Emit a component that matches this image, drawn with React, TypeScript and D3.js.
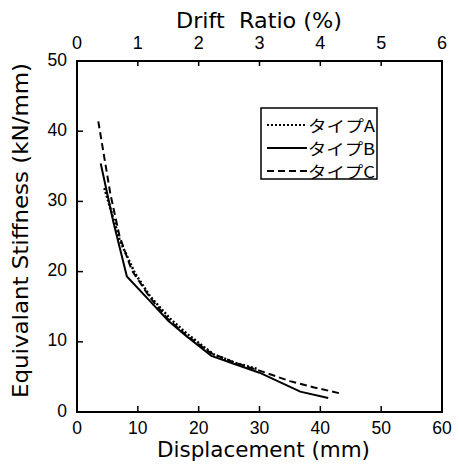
import React from "react";
import * as d3 from "d3";

const xTicks = [0, 10, 20, 30, 40, 50, 60];
const yTicks = [0, 10, 20, 30, 40, 50];
const driftTicks = [0, 1, 2, 3, 4, 5, 6];

const seriesNames = ["タイプA", "タイプB", "タイプC"];

const typeAx = [4.5, 7.0, 9.5, 12.0, 15.3, 18.0, 20.8, 22.5, 26.0, 29.8];
const typeAy = [31.9, 24.5, 19.8, 16.5, 13.3, 11.2, 9.3, 8.2, 7.0, 6.1];

const typeBx = [3.9, 6.0, 8.2, 12.0, 15.0, 18.0, 22.1, 26.0, 30.0, 36.7, 41.3];
const typeBy = [35.4, 27.0, 19.3, 15.8, 13.0, 10.8, 8.0, 6.8, 5.6, 2.9, 2.0];

const typeCx = [3.5, 5.5, 7.0, 9.0, 12.0, 15.0, 18.0, 22.0, 26.0, 30.0, 35.0, 39.0, 43.5];
const typeCy = [41.4, 31.0, 25.0, 20.2, 16.3, 13.2, 10.9, 8.4, 7.0, 5.9, 4.4, 3.5, 2.6];

const dashes = ["2,2", "none", "7,4"];

export default function App() {
  const W = 459, H = 465;
  const left = 77, right = 442, top = 61, bottom = 412;
  const x = d3.scaleLinear().domain([0, 60]).range([left, right]);
  const xd = d3.scaleLinear().domain([0, 6]).range([left, right]);
  const y = d3.scaleLinear().domain([0, 50]).range([bottom, top]);
  const line = d3.line<[number, number]>().x(d => x(d[0])).y(d => y(d[1]));
  const series = [
    typeAx.map((v, i) => [v, typeAy[i]] as [number, number]),
    typeBx.map((v, i) => [v, typeBy[i]] as [number, number]),
    typeCx.map((v, i) => [v, typeCy[i]] as [number, number]),
  ];
  const font = "'DejaVu Sans', sans-serif";
  const tickFont = "'Liberation Sans', Arial, sans-serif";
  const legX = 261, legY = 108;
  return (
    <svg width={W} height={H} style={{ position: "absolute", left: 0, top: 0, background: "#fff" }} fontFamily={font}>
      <rect x={0} y={0} width={W} height={H} fill="#fff" />
      <rect x={left} y={top} width={right - left} height={bottom - top} fill="none" stroke="#000" strokeWidth={2} />
      {xTicks.map(t => (
        <g key={"x" + t}>
          {t > 0 && t < 60 && <line x1={x(t)} x2={x(t)} y1={bottom} y2={bottom - 6} stroke="#000" strokeWidth={1.5} />}
          <text x={x(t)} y={428} textAnchor="middle" dominantBaseline="central" fontSize={17.5} fontFamily={tickFont}>{t}</text>
        </g>
      ))}
      {driftTicks.map(t => (
        <g key={"d" + t}>
          {t > 0 && t < 6 && <line x1={xd(t)} x2={xd(t)} y1={top} y2={top + 5} stroke="#000" strokeWidth={1.5} />}
          <text x={xd(t)} y={43} textAnchor="middle" dominantBaseline="central" fontSize={18} fontFamily={tickFont}>{t}</text>
        </g>
      ))}
      {yTicks.map(t => (
        <g key={"y" + t}>
          {t > 0 && t < 50 && <line x1={left} x2={left + 6} y1={y(t)} y2={y(t)} stroke="#000" strokeWidth={1.5} />}
          <text x={67} y={y(t) - 1.5} textAnchor="end" dominantBaseline="central" fontSize={17.5} fontFamily={tickFont}>{t}</text>
        </g>
      ))}
      {series.map((s, i) => (
        <path key={i} d={line(s) || ""} fill="none" stroke="#000" strokeWidth={i === 0 ? 2.5 : 2} strokeDasharray={dashes[i]} />
      ))}
      <rect x={legX} y={legY} width={116} height={71} fill="#fff" stroke="#000" strokeWidth={1.5} />
      {seriesNames.map((n, i) => {
        const ly = legY + 17 + i * 23;
        return (
          <g key={n}>
            <line x1={267} x2={307} y1={ly} y2={ly} stroke="#000" strokeWidth={2} strokeDasharray={dashes[i]} />
            <text x={308} y={ly} dominantBaseline="central" fontSize={15.5} fontFamily="'Noto Sans CJK JP', sans-serif" textLength={67} lengthAdjust="spacingAndGlyphs">{n}</text>
          </g>
        );
      })}
      <text x={259} y={27.5} textAnchor="middle" fontSize={21} textLength={166} lengthAdjust="spacingAndGlyphs" style={{ whiteSpace: "pre" }}>{"Drift  Ratio (%)"}</text>
      <text x={263.5} y={457} textAnchor="middle" fontSize={21} textLength={213} lengthAdjust="spacingAndGlyphs">Displacement (mm)</text>
      <text transform={`translate(27.5,230.5) rotate(-90)`} textAnchor="middle" fontSize={21} textLength={335} lengthAdjust="spacingAndGlyphs">Equivalant Stiffness (kN/mm)</text>
    </svg>
  );
}
